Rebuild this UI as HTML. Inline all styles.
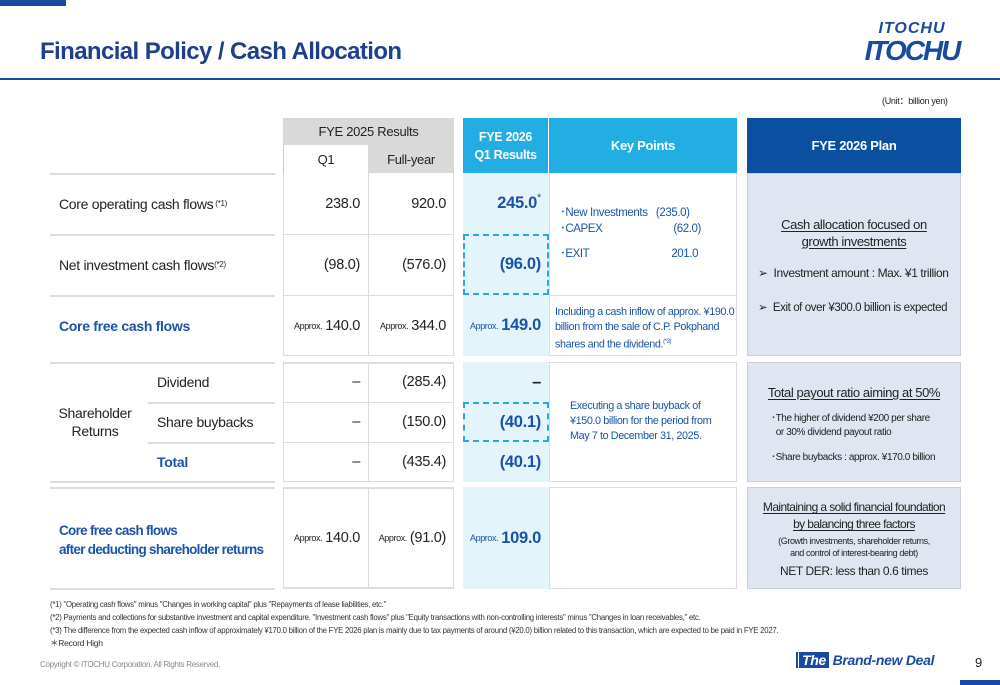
<!DOCTYPE html>
<html><head><meta charset="utf-8"><style>
*{margin:0;padding:0;box-sizing:border-box}
body{width:1000px;height:685px;position:relative;background:#fff;font-family:"Liberation Sans",sans-serif;color:#222;overflow:hidden;letter-spacing:-0.3px}
.a{position:absolute}
.c{display:flex;align-items:center;justify-content:center;text-align:center}
.r{display:flex;align-items:center;justify-content:flex-end;padding-right:8px;white-space:nowrap}
.l{display:flex;align-items:center;white-space:nowrap}
.hl{position:absolute;height:2px;background:#ddd}
.blue{color:#1a54a8}
.sm{font-size:9px;margin-right:3px;letter-spacing:-0.4px}
.v{font-size:14.5px}
.b{font-size:16.5px;font-weight:bold;color:#1a54a8}
.dash{position:absolute;border:2px dashed #2aa6e0}
.kp{font-size:11.5px;color:#1a54a8;letter-spacing:-0.4px}
.pl{font-size:12px;color:#222;letter-spacing:-0.4px}
u{text-underline-offset:2px}
</style></head><body>
<div class="a" style="left:0;top:0;width:66px;height:6px;background:#1a4aa0"></div>
<div class="a" style="left:40px;top:38px;font-size:24px;font-weight:bold;color:#1d3f8e;letter-spacing:-0.6px">Financial Policy / Cash Allocation</div>
<div class="a" style="left:0;top:78px;width:1000px;height:2px;background:#1d4a98"></div>
<div class="a" style="left:862px;top:18px;width:100px;height:52px;color:#1a4aa0;font-weight:bold;font-style:italic;text-align:center;line-height:22px"><div style="font-size:16px;letter-spacing:1px">ITOCHU</div><div style="font-size:28px;letter-spacing:-2px">ITOCHU</div></div>
<div class="a" style="left:882px;top:94px;font-size:9px">(Unit：billion yen)</div>

<div class="a c" style="left:283px;top:118px;width:171px;height:27px;background:#d9d9d9;font-size:13px">FYE 2025 Results</div>
<div class="a c" style="left:283px;top:145px;width:85px;height:28px;background:#fff;border-left:1px solid #ccc;font-size:13px">Q1</div>
<div class="a c" style="left:368px;top:145px;width:86px;height:28px;background:#d9d9d9;font-size:13px">Full-year</div>
<div class="a c" style="left:463px;top:118px;width:85px;height:55px;background:#22ade3;color:#fff;font-weight:bold;font-size:12.5px;line-height:18px">FYE 2026<br>Q1 Results</div>
<div class="a c" style="left:549px;top:118px;width:188px;height:55px;background:#22ade3;color:#fff;font-weight:bold;font-size:13px">Key Points</div>
<div class="a c" style="left:747px;top:118px;width:214px;height:55px;background:#0b4fa0;color:#fff;font-weight:bold;font-size:13px">FYE 2026 Plan</div>

<div class="a" style="left:283px;top:173px;width:171px;height:183px;border:1px solid #ddd;border-top:none"></div>
<div class="a" style="left:368px;top:173px;width:1px;height:183px;background:#ddd"></div>
<div class="a" style="left:283px;top:234px;width:171px;height:1px;background:#ddd"></div>
<div class="a" style="left:283px;top:295px;width:171px;height:1px;background:#ddd"></div>
<div class="a" style="left:463px;top:173px;width:86px;height:183px;background:#e4f4fb"></div>
<div class="a" style="left:549px;top:173px;width:188px;height:183px;border:1px solid #ddd;border-top:none"></div>
<div class="a" style="left:549px;top:295px;width:188px;height:1px;background:#ddd"></div>
<div class="a" style="left:747px;top:173px;width:214px;height:183px;background:#dfe6f1;border:1px solid #c8cfdb"></div>
<div class="hl" style="left:50px;top:173px;width:225px"></div>
<div class="hl" style="left:50px;top:234px;width:225px"></div>
<div class="hl" style="left:50px;top:295px;width:225px"></div>

<div class="a l" style="left:59px;top:173px;height:61px;font-size:14px">Core operating cash flows<sup style="font-size:8px">&nbsp;(*1)</sup></div>
<div class="a l" style="left:59px;top:234px;height:61px;font-size:14px">Net investment cash flows<sup style="font-size:8px">(*2)</sup></div>
<div class="a l blue" style="left:59px;top:295px;height:61px;font-size:14px;font-weight:bold">Core free cash flows</div>

<div class="a r v" style="left:283px;top:173px;width:85px;height:61px">238.0</div>
<div class="a r v" style="left:368px;top:173px;width:86px;height:61px">920.0</div>
<div class="a r v" style="left:283px;top:234px;width:85px;height:61px">(98.0)</div>
<div class="a r v" style="left:368px;top:234px;width:86px;height:61px">(576.0)</div>
<div class="a r v" style="left:283px;top:295px;width:85px;height:61px"><span class="sm">Approx.</span>140.0</div>
<div class="a r v" style="left:368px;top:295px;width:86px;height:61px"><span class="sm">Approx.</span>344.0</div>

<div class="a r b" style="left:463px;top:173px;width:86px;height:61px">245.0<sup style="font-size:11px;font-weight:normal;position:relative;top:-6px">*</sup></div>
<div class="dash" style="left:463px;top:234px;width:86px;height:61px"></div>
<div class="a r b" style="left:463px;top:234px;width:86px;height:61px">(96.0)</div>
<div class="a r b" style="left:463px;top:295px;width:86px;height:61px"><span class="sm" style="font-weight:normal">Approx.</span>149.0</div>

<div class="a kp" style="left:560px;top:205px;line-height:16px">･New Investments&nbsp;&nbsp;&nbsp;(235.0)<br>･CAPEX<span style="padding-left:71px">(62.0)</span></div>
<div class="a kp" style="left:560px;top:245px">･EXIT<span style="padding-left:82px">201.0</span></div>
<div class="a kp" style="left:555px;top:305px;width:182px;line-height:15px;font-size:10.8px">Including a cash inflow of approx. ¥190.0 billion from the sale of C.P. Pokphand shares and the dividend.<sup style="font-size:6px">(*3)</sup></div>

<div class="a pl" style="left:747px;top:216px;width:214px;text-align:center;font-size:13px;line-height:17px"><u>Cash allocation focused on<br>growth investments</u></div>
<div class="a pl" style="left:758px;top:266px">➢&nbsp; Investment amount : Max. ¥1 trillion</div>
<div class="a pl" style="left:758px;top:300px;font-size:11.5px">➢&nbsp; Exit of over ¥300.0 billion is expected</div>

<div class="a" style="left:283px;top:362px;width:171px;height:120px;border:1px solid #ddd;border-top:2px solid #ddd"></div>
<div class="a" style="left:368px;top:362px;width:1px;height:120px;background:#ddd"></div>
<div class="a" style="left:283px;top:402px;width:171px;height:1px;background:#ddd"></div>
<div class="a" style="left:283px;top:442px;width:171px;height:1px;background:#ddd"></div>
<div class="a" style="left:463px;top:362px;width:86px;height:120px;background:#e4f4fb"></div>
<div class="a" style="left:549px;top:362px;width:188px;height:120px;border:1px solid #ddd"></div>
<div class="a" style="left:747px;top:362px;width:214px;height:120px;background:#dfe6f1;border:1px solid #c8cfdb"></div>
<div class="hl" style="left:50px;top:362px;width:225px"></div>
<div class="hl" style="left:148px;top:402px;width:127px"></div>
<div class="hl" style="left:148px;top:442px;width:127px"></div>
<div class="hl" style="left:50px;top:481px;width:225px"></div>

<div class="a c" style="left:50px;top:362px;width:90px;height:120px;font-size:14px;line-height:18px">Shareholder<br>Returns</div>
<div class="a l" style="left:157px;top:362px;height:40px;font-size:14px">Dividend</div>
<div class="a l" style="left:157px;top:402px;height:40px;font-size:14px">Share buybacks</div>
<div class="a l blue" style="left:157px;top:442px;height:40px;font-size:14px;font-weight:bold">Total</div>

<div class="a r v" style="left:283px;top:362px;width:85px;height:40px">–</div>
<div class="a r v" style="left:368px;top:362px;width:86px;height:40px">(285.4)</div>
<div class="a r v" style="left:283px;top:402px;width:85px;height:40px">–</div>
<div class="a r v" style="left:368px;top:402px;width:86px;height:40px">(150.0)</div>
<div class="a r v" style="left:283px;top:442px;width:85px;height:40px">–</div>
<div class="a r v" style="left:368px;top:442px;width:86px;height:40px">(435.4)</div>
<div class="a r b" style="left:463px;top:362px;width:86px;height:40px;color:#222">–</div>
<div class="dash" style="left:463px;top:402px;width:86px;height:40px"></div>
<div class="a r b" style="left:463px;top:402px;width:86px;height:40px">(40.1)</div>
<div class="a r b" style="left:463px;top:442px;width:86px;height:40px">(40.1)</div>
<div class="a kp" style="left:570px;top:399px;width:162px;line-height:15px;font-size:10.8px">Executing a share buyback of ¥150.0 billion for the period from May 7 to December 31, 2025.</div>

<div class="a pl" style="left:747px;top:385px;width:214px;text-align:center;font-size:13px"><u>Total payout ratio aiming at 50%</u></div>
<div class="a pl" style="left:771px;top:412px;font-size:10px;line-height:14px">･The higher of dividend ¥200 per share<br>&nbsp; or 30% dividend payout ratio</div>
<div class="a pl" style="left:771px;top:448px;font-size:10px">･Share buybacks : approx. ¥170.0 billion</div>

<div class="a" style="left:283px;top:487px;width:171px;height:102px;border:1px solid #ddd;border-top:2px solid #ddd;border-bottom:2px solid #ddd"></div>
<div class="a" style="left:368px;top:487px;width:1px;height:102px;background:#ddd"></div>
<div class="a" style="left:463px;top:487px;width:86px;height:102px;background:#e4f4fb"></div>
<div class="a" style="left:549px;top:487px;width:188px;height:102px;border:1px solid #ddd"></div>
<div class="a" style="left:747px;top:487px;width:214px;height:102px;background:#dfe6f1;border:1px solid #c8cfdb"></div>
<div class="hl" style="left:50px;top:487px;width:225px"></div>
<div class="hl" style="left:50px;top:588px;width:225px"></div>
<div class="a blue" style="left:59px;top:521px;font-size:13.5px;font-weight:bold;line-height:19px;letter-spacing:-0.7px;white-space:nowrap">Core free cash flows<br>after deducting shareholder returns</div>
<div class="a r v" style="left:283px;top:487px;width:85px;height:102px"><span class="sm">Approx.</span>140.0</div>
<div class="a r v" style="left:368px;top:487px;width:86px;height:102px"><span class="sm">Approx.</span>(91.0)</div>
<div class="a r b" style="left:463px;top:487px;width:86px;height:102px"><span class="sm" style="font-weight:normal">Approx.</span>109.0</div>
<div class="a pl" style="left:747px;top:499px;width:214px;text-align:center;font-size:12px;line-height:17px;letter-spacing:-0.6px"><u>Maintaining a solid financial foundation<br>by balancing three factors</u></div>
<div class="a pl" style="left:747px;top:535px;width:214px;text-align:center;font-size:9px;line-height:12px">(Growth investments, shareholder returns,<br>and control of interest-bearing debt)</div>
<div class="a pl" style="left:747px;top:564px;width:214px;text-align:center;font-size:12px">NET DER: less than 0.6 times</div>

<div class="a" style="left:50px;top:598px;font-size:7.8px;line-height:13px;color:#333;letter-spacing:-0.25px;white-space:nowrap">(*1) "Operating cash flows" minus "Changes in working capital" plus "Repayments of lease liabilities, etc."<br>(*2) Payments and collections for substantive investment and capital expenditure. "Investment cash flows" plus "Equity transactions with non-controlling interests" minus "Changes in loan receivables," etc.<br>(*3) The difference from the expected cash inflow of approximately ¥170.0 billion of the FYE 2026 plan is mainly due to tax payments of around (¥20.0) billion related to this transaction, which are expected to be paid in FYE 2027.<br><span style="font-size:8.5px">＊Record High</span></div>
<div class="a" style="left:40px;top:660px;font-size:8px;color:#888">Copyright © ITOCHU Corporation. All Rights Reserved.</div>
<div class="a" style="left:795px;top:652px;font-size:14px;font-weight:bold;font-style:italic;color:#1a4aa0;white-space:nowrap"><span style="background:#1a4aa0;color:#fff;padding:0 3px;border-left:4px double #fff">The</span> Brand-new Deal</div>
<div class="a" style="left:975px;top:655px;font-size:13px">9</div>
<div class="a" style="left:960px;top:680px;width:40px;height:5px;background:#1a4aa0"></div>
</body></html>
